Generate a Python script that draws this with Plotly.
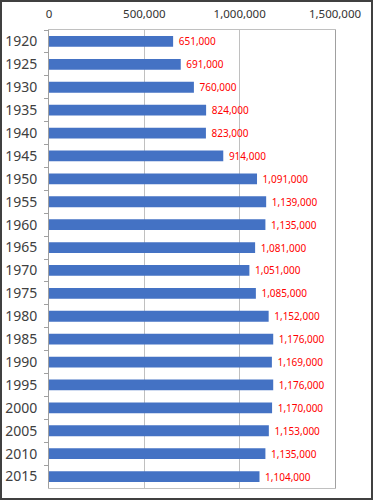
import plotly.graph_objects as go

years = ["1920", "1925", "1930", "1935", "1940", "1945", "1950", "1955", "1960", "1965",
         "1970", "1975", "1980", "1985", "1990", "1995", "2000", "2005", "2010", "2015"]
population = [651000, 691000, 760000, 824000, 823000, 914000, 1091000, 1139000, 1135000, 1081000,
              1051000, 1085000, 1152000, 1176000, 1169000, 1176000, 1170000, 1153000, 1135000, 1104000]
x_ticks = [0, 500000, 1000000, 1500000]
x_tick_labels = ["0", "500,000", "1,000,000", "1,500,000"]

W, H = 373, 500
ml, mr, mt, mb = 49, 38, 30, 12
pw, ph = W - ml - mr, H - mt - mb

fig = go.Figure(go.Bar(
    x=population, y=years, orientation="h",
    marker=dict(color="#4472C4", line=dict(width=0)),
    width=0.47,
    text=["\u00a0" + f"{v:,}" for v in population],
    textposition="outside",
    constraintext="none",
    textfont=dict(color="#FF0000", size=10, family="Noto Sans"),
    cliponaxis=False,
))

fig.update_layout(
    width=W, height=H,
    margin=dict(l=ml, r=mr, t=mt, b=mb, autoexpand=False),
    paper_bgcolor="white", plot_bgcolor="white",
    showlegend=False,
    font=dict(family="Noto Sans", color="#404040"),
    xaxis=dict(
        side="top", range=[0, 1500000], tickvals=x_ticks, ticktext=x_tick_labels,
        showgrid=True, gridcolor="#C0C0C0", gridwidth=1,
        zeroline=False, showline=True, linecolor="#C0C0C0", mirror=True,
        ticks="", tickfont=dict(size=11.5, color="#333333"),
        ticklabelstandoff=6,
        automargin=False, fixedrange=True,
    ),
    yaxis=dict(
        type="category", categoryorder="array", categoryarray=years,
        autorange="reversed",
        showline=True, linecolor="#A0A0A0", mirror=True,
        ticks="outside", ticklen=4, tickcolor="#A0A0A0", tickson="boundaries",
        showgrid=False, tickfont=dict(size=14, color="#404040"),
        ticklabelstandoff=8, automargin=False, fixedrange=True,
    ),
    shapes=[dict(
        type="rect", xref="paper", yref="paper",
        x0=-(ml - 1) / pw, x1=1 + (mr - 1) / pw,
        y0=-(mb - 1) / ph, y1=1 + (mt - 1) / ph,
        line=dict(color="#404040", width=2), layer="above",
    )],
)

fig.write_html(
    "out.html",
    config={"displayModeBar": False},
    post_script="document.body.style.margin='0';document.body.style.overflow='hidden';",
)
